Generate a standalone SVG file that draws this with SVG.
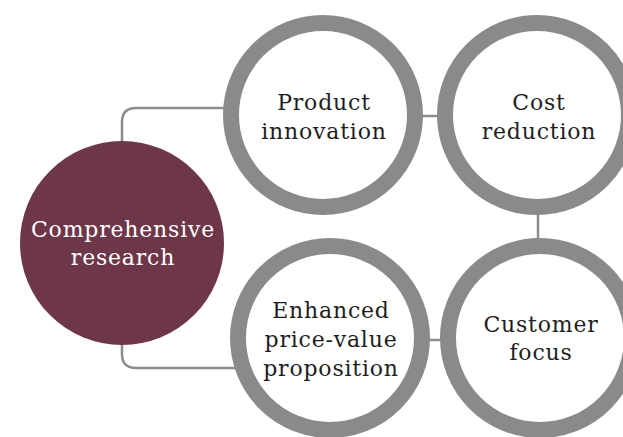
<svg xmlns="http://www.w3.org/2000/svg" width="623" height="437" viewBox="0 0 623 437">
<style>
.ring{fill:#fff;stroke:#8a8a8a;stroke-width:16}
.conn{fill:none;stroke:#8c8c8c;stroke-width:2.5}
.t{font-family:"DejaVu Serif","Liberation Serif",serif;font-size:22px;letter-spacing:0.8px;text-anchor:middle;fill:#1e1e1e}
.w{fill:#fff}
</style>
<rect width="623" height="437" fill="#fff"/>
<g id="connectors">
<path class="conn" d="M122,141 V122 Q122,108 136,108 H226"/>
<path class="conn" d="M122,344 V354 Q122,368 136,368 H236"/>
<path class="conn" d="M420,116 H440"/>
<path class="conn" d="M420,340 H444"/>
<path class="conn" d="M538,212 V242"/>
</g>
<g id="comprehensive-research">
<circle cx="122" cy="243" r="102" fill="#6e3749"/>
<text class="t w" x="123" y="237">Comprehensive</text>
<text class="t w" x="123" y="265">research</text>
</g>
<g id="product-innovation">
<circle class="ring" cx="323" cy="115" r="92"/>
<text class="t" x="324" y="110">Product</text>
<text class="t" x="324" y="139">innovation</text>
</g>
<g id="cost-reduction">
<circle class="ring" cx="537" cy="115" r="92"/>
<text class="t" x="539" y="110">Cost</text>
<text class="t" x="539" y="139">reduction</text>
</g>
<g id="enhanced-price-value-proposition">
<circle class="ring" cx="330" cy="338" r="92"/>
<text class="t" x="331" y="318">Enhanced</text>
<text class="t" x="331" y="347">price-value</text>
<text class="t" x="331" y="376">proposition</text>
</g>
<g id="customer-focus">
<circle class="ring" cx="540" cy="338" r="92"/>
<text class="t" x="541" y="332">Customer</text>
<text class="t" x="541" y="360">focus</text>
</g>
</svg>
